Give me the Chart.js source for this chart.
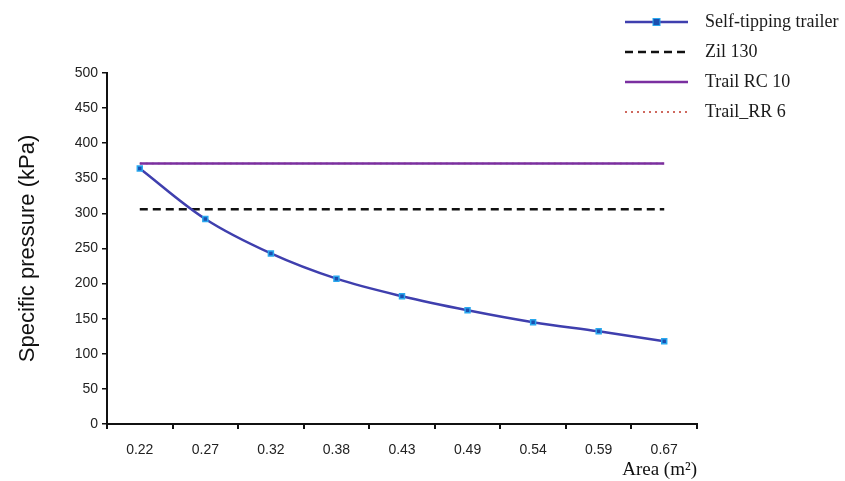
<!DOCTYPE html>
<html>
<head>
<meta charset="utf-8">
<script src="https://cdn.jsdelivr.net/npm/chart.js@4"></script>
<style>
html,body{margin:0;padding:0;background:#fff;}
#wrap{width:845px;height:481px;position:relative;}
</style>
</head>
<body>
<div id="wrap"><canvas id="c" width="845" height="481"></canvas></div>
<script>
const categories = ['0.22','0.27','0.32','0.38','0.43','0.49','0.54','0.59','0.67'];
const selfTipping = [364, 292, 243, 207, 182, 162, 145, 132, 118];
const zil130 = [306, 306, 306, 306, 306, 306, 306, 306, 306];
const trailRC10 = [371, 371, 371, 371, 371, 371, 371, 371, 371];
const trailRR6 = [371, 371, 371, 371, 371, 371, 371, 371, 371];
const yTicks = [0,50,100,150,200,250,300,350,400,450,500];

const legendPlugin = {
  id: 'sideLegend',
  afterDraw(chart) {
    const ctx = chart.ctx;
    const items = chart.data.datasets.slice().sort((a,b)=>a.legendOrder-b.legendOrder);
    const x0 = 625, x1 = 688, tx = 705;
    let y = 22;
    ctx.save();
    items.forEach(ds => {
      ctx.beginPath();
      ctx.strokeStyle = ds.borderColor;
      ctx.lineWidth = ds.borderWidth;
      ctx.setLineDash(ds.borderDash || []);
      ctx.moveTo(x0, y); ctx.lineTo(x1, y);
      ctx.stroke();
      ctx.setLineDash([]);
      if (ds.pointRadius > 0) {
        const r = ds.pointRadius;
        const cx = (x0 + x1) / 2;
        ctx.fillStyle = ds.pointBackgroundColor;
        ctx.strokeStyle = ds.pointBorderColor;
        ctx.lineWidth = 1;
        ctx.fillRect(cx - r, y - r, 2*r, 2*r);
        ctx.strokeRect(cx - r, y - r, 2*r, 2*r);
      }
      ctx.fillStyle = '#1a1a1a';
      ctx.font = '18px "Liberation Serif"';
      ctx.textBaseline = 'middle';
      ctx.textAlign = 'left';
      ctx.fillText(ds.label, tx, y);
      y += 30;
    });
    ctx.restore();
  }
};

new Chart(document.getElementById('c'), {
  type: 'line',
  data: {
    labels: categories,
    datasets: [
      { label: 'Trail_RR 6', data: trailRR6, borderColor: '#c0392b', borderWidth: 1.5, borderDash: [2,4], pointRadius: 0, legendOrder: 3, order: 4 },
      { label: 'Trail RC 10', data: trailRC10, borderColor: '#7a2fa0', borderWidth: 2.5, pointRadius: 0, legendOrder: 2, order: 3 },
      { label: 'Zil 130', data: zil130, borderColor: '#111111', borderWidth: 2.5, borderDash: [8,5], pointRadius: 0, legendOrder: 1, order: 2 },
      { label: 'Self-tipping trailer', data: selfTipping, borderColor: '#3f3fae', borderWidth: 2.5, tension: 0.35,
        pointStyle: 'rect', pointRadius: 3.5, pointBackgroundColor: '#1a4fb0', pointBorderColor: '#2aa8ee', pointBorderWidth: 1.5, legendOrder: 0, order: 1 }
    ]
  },
  options: {
    responsive: false,
    animation: false,
    layout: { padding: { left: 0, top: 73, right: 148, bottom: 0 } },
    plugins: { legend: { display: false }, tooltip: { enabled: false } },
    scales: {
      x: {
        offset: true,
        grid: { display: true, drawOnChartArea: false, offset: true, tickLength: 5, color: '#111', lineWidth: 2 },
        border: { display: true, color: '#111', width: 2 },
        ticks: { color: '#222', font: { family: '"Liberation Sans"', size: 14 }, padding: 13, maxRotation: 0 },
        title: { display: true, text: 'Area (m²)', align: 'end', color: '#111', font: { family: '"Liberation Serif"', size: 19 }, padding: { top: 0, bottom: 0 } },
        afterFit(s) { s.height = 57; }
      },
      y: {
        min: 0, max: 500,
        afterBuildTicks(s) { s.ticks = yTicks.map(v => ({ value: v })); },
        grid: { display: true, drawOnChartArea: false, tickLength: 5, color: '#111', lineWidth: 1.5 },
        border: { display: true, color: '#111', width: 2 },
        ticks: { color: '#222', font: { family: '"Liberation Sans"', size: 14 }, padding: 4 },
        title: { display: true, text: 'Specific pressure (kPa)', color: '#111', font: { family: '"Liberation Sans"', size: 22 }, padding: { top: 15, bottom: 0 } },
        afterFit(s) { s.width = 107; }
      }
    }
  },
  plugins: [legendPlugin]
});
</script>
</body>
</html>
